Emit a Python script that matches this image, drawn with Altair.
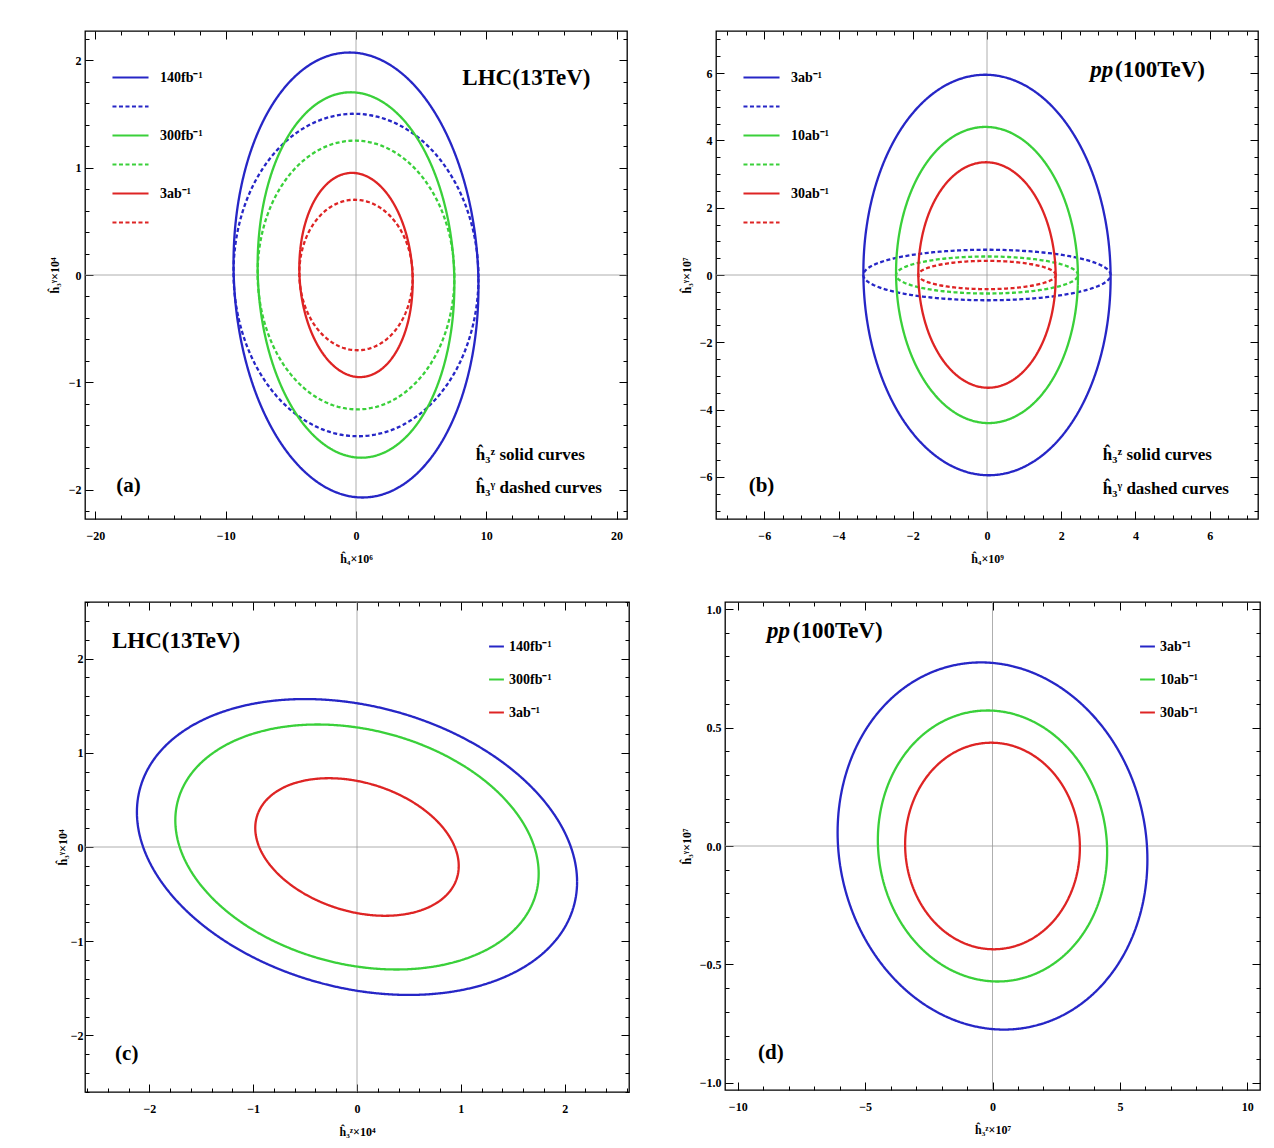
import numpy as np
import pandas as pd
import altair as alt

SERIF = "Liberation Serif"
BLUE, GREEN, RED = "#2626c6", "#3ad03a", "#de2424"
SOLID = [1, 0]
DASH = [4, 2.5]

# ---------------- panel (a): LHC 13 TeV ----------------
a_labels = ["140fb⁻¹", "300fb⁻¹", "3ab⁻¹"]
a_z_xhalf = [9.4, 7.55, 4.35]      # solid curves (ĥ3^Z): half extent along ĥ4
a_z_yhalf = [2.07, 1.70, 0.95]     # half extent along vertical axis
a_z_xtop = [-0.5, -0.4, -0.3]      # ĥ4 position of the top point
a_g_xhalf = [9.4, 7.55, 4.35]      # dashed curves (ĥ3^γ)
a_g_yhalf = [1.50, 1.25, 0.70]
a_g_xtop = [-0.15, -0.1, -0.1]
a_xticks = [-20, -10, 0, 10, 20]
a_yticks = [-2, -1, 0, 1, 2]

# ---------------- panel (b): pp 100 TeV ----------------
b_labels = ["3ab⁻¹", "10ab⁻¹", "30ab⁻¹"]
b_z_xhalf = [3.33, 2.45, 1.85]
b_z_yhalf = [5.95, 4.40, 3.35]
b_z_xtop = [-0.05, -0.04, -0.03]
b_g_xhalf = [3.33, 2.45, 1.85]
b_g_yhalf = [0.75, 0.55, 0.42]
b_g_xtop = [0.0, 0.0, 0.0]
b_xticks = [-6, -4, -2, 0, 2, 4, 6]
b_yticks = [-6, -4, -2, 0, 2, 4, 6]

# ---------------- panel (c): LHC 13 TeV, (ĥ3^Z, ĥ3^γ) ----------------
c_labels = ["140fb⁻¹", "300fb⁻¹", "3ab⁻¹"]
c_xhalf = [2.12, 1.75, 0.98]
c_yhalf = [1.57, 1.30, 0.73]
c_xtop = [-0.50, -0.38, -0.27]
c_xticks = [-2, -1, 0, 1, 2]
c_yticks = [-2, -1, 0, 1, 2]

# ---------------- panel (d): pp 100 TeV, (ĥ3^Z, ĥ3^γ) ----------------
d_labels = ["3ab⁻¹", "10ab⁻¹", "30ab⁻¹"]
d_xhalf = [6.08, 4.50, 3.43]
d_yhalf = [0.775, 0.572, 0.436]
d_xtop = [-0.45, -0.20, -0.05]
d_xticks = [-10, -5, 0, 5, 10]
d_yticks = [-1.0, -0.5, 0.0, 0.5, 1.0]


def ellipse_rows(key, xh, yh, xt, n=241):
    t = np.linspace(0, 2 * np.pi, n)
    b = xt * yh / xh
    c = np.sqrt(yh ** 2 - b ** 2)
    return pd.DataFrame({"x": xh * np.cos(t), "y": b * np.cos(t) + c * np.sin(t),
                         "key": key, "i": np.arange(n)})


def build(labels, zx, zy, zt, gx=None, gy=None, gt=None):
    frames, keys, cols, dashes = [], [], [], []
    colors = [BLUE, GREEN, RED]
    for k in range(3):
        frames.append(ellipse_rows(labels[k], zx[k], zy[k], zt[k]))
        keys.append(labels[k]); cols.append(colors[k]); dashes.append(SOLID)
        if gx is not None:
            kk = labels[k] + " γ"
            frames.append(ellipse_rows(kk, gx[k], gy[k], gt[k]))
            keys.append(kk); cols.append(colors[k]); dashes.append(DASH)
    return pd.concat(frames, ignore_index=True), keys, cols, dashes


def minor(lo, hi, step, majors):
    vals = np.round(np.arange(lo, hi + step / 2, step), 6)
    return [float(v) for v in vals if all(abs(v - m) > 1e-6 for m in majors)]


def tax(orient, offset, values, size):
    return alt.Axis(orient=orient, offset=offset, values=values, labels=False, ticks=True,
                    tickSize=size, tickColor="black", tickWidth=1, domain=False,
                    grid=False, title=None)


def panel(data, xdom, ydom, xmaj, xstep, ymaj, ystep, xtitle, ytitle, W, H,
          xfmt, yfmt, legend, texts, ylp=4, ytp=6):
    df, keys, cols, dashes = data
    xs = alt.Scale(domain=xdom, nice=False, zero=False)
    ys = alt.Scale(domain=ydom, nice=False, zero=False)
    x0 = np.ceil(xdom[0] / xstep) * xstep
    y0 = np.ceil(ydom[0] / ystep) * ystep
    xmin_t = [v for v in minor(x0, xdom[1], xstep, xmaj) if xdom[0] <= v <= xdom[1]]
    ymin_t = [v for v in minor(y0, ydom[1], ystep, ymaj) if ydom[0] <= v <= ydom[1]]
    one = pd.DataFrame({"v": [0]})

    vline = alt.Chart(one).mark_rule(color="#9a9a9a", strokeWidth=0.8).encode(
        x=alt.XDatum(0, type="quantitative", scale=xs, axis=tax("top", -H, xmaj, 8)),
        y=alt.YDatum(ydom[0], type="quantitative", scale=ys, axis=tax("right", -W, ymaj, 8)),
        y2=alt.Y2Datum(ydom[1]),
    )
    hline = alt.Chart(one).mark_rule(color="#9a9a9a", strokeWidth=0.8).encode(
        y=alt.YDatum(0, type="quantitative", scale=ys, axis=tax("left", -W, ymaj, 8)),
        x=alt.XDatum(xdom[0], type="quantitative", scale=xs, axis=tax("bottom", -H, xmaj, 8)),
        x2=alt.X2Datum(xdom[1]),
    )
    mt1 = alt.Chart(one).mark_point(opacity=0).encode(
        x=alt.XDatum(0, type="quantitative", scale=xs, axis=tax("top", -H, xmin_t, 4)),
        y=alt.YDatum(0, type="quantitative", scale=ys, axis=tax("right", -W, ymin_t, 4)),
    )
    mt2 = alt.Chart(one).mark_point(opacity=0).encode(
        x=alt.XDatum(0, type="quantitative", scale=xs, axis=tax("bottom", -H, xmin_t, 4)),
        y=alt.YDatum(0, type="quantitative", scale=ys, axis=tax("left", -W, ymin_t, 4)),
    )
    curves = alt.Chart(df).mark_line(strokeWidth=2.3).encode(
        x=alt.X("x:Q", scale=xs, axis=alt.Axis(orient="bottom", values=xmaj, format=xfmt,
                                               ticks=False, domain=False, grid=False,
                                               labelPadding=11, title=xtitle, titlePadding=12)),
        y=alt.Y("y:Q", scale=ys, axis=alt.Axis(orient="left", values=ymaj, format=yfmt,
                                               ticks=False, domain=False, grid=False,
                                               labelPadding=ylp, title=ytitle, titlePadding=ytp)),
        color=alt.Color("key:N", scale=alt.Scale(domain=keys, range=cols), legend=legend),
        strokeDash=alt.StrokeDash("key:N", scale=alt.Scale(domain=keys, range=dashes),
                                  legend=legend),
        order="i:Q",
    )
    layers = [vline, hline, mt1, mt2, curves]
    for (tx, ty, txt, align, size, weight, style) in texts:
        layers.append(alt.Chart(one).mark_text(
            text=txt, align=align, baseline="middle", font=SERIF, fontSize=size,
            fontWeight=weight, fontStyle=style, color="black").encode(
            x=alt.XDatum(tx, type="quantitative", scale=xs, axis=None),
            y=alt.YDatum(ty, type="quantitative", scale=ys, axis=None)))
    return alt.layer(*layers).resolve_axis(x="independent", y="independent").properties(
        width=W, height=H)


def big_legend(x, y):
    return alt.Legend(title=None, orient="none", legendX=x, legendY=y, symbolType="stroke",
                      symbolSize=1300, symbolStrokeWidth=2, labelFont=SERIF, labelFontSize=14,
                      labelFontWeight="bold", labelColor="black", rowPadding=2,
                      labelOffset=10, padding=0,
                      labelExpr="indexof(datum.label, ' γ') >= 0 ? '' : datum.label")


def small_legend(x, y):
    return alt.Legend(title=None, orient="none", legendX=x, legendY=y, symbolType="stroke",
                      symbolSize=220, symbolStrokeWidth=2, labelFont=SERIF, labelFontSize=14,
                      labelFontWeight="bold", labelColor="black", rowPadding=17,
                      labelOffset=4, padding=0)


pa = panel(build(a_labels, a_z_xhalf, a_z_yhalf, a_z_xtop, a_g_xhalf, a_g_yhalf, a_g_xtop),
           [-20.8, 20.8], [-2.27, 2.27], a_xticks, 2, a_yticks, 0.2,
           "ĥ₄×10⁶", "ĥ₃ᵞ×10⁴", 542, 488, "d", "d", big_legend(26, 27),
           [(18.0, 1.83, "LHC(13TeV)", "right", 23, "bold", "normal"),
            (-18.4, -1.96, "(a)", "left", 21, "bold", "normal"),
            (9.2, -1.67, "ĥ₃ᶻ solid curves", "left", 17, "bold", "normal"),
            (9.2, -1.98, "ĥ₃ᵞ dashed curves", "left", 17, "bold", "normal")],
           ylp=4, ytp=7)

pb = panel(build(b_labels, b_z_xhalf, b_z_yhalf, b_z_xtop, b_g_xhalf, b_g_yhalf, b_g_xtop),
           [-7.3, 7.3], [-7.25, 7.25], b_xticks, 0.5, b_yticks, 0.5,
           "ĥ₄×10⁹", "ĥ₃ᵞ×10⁷", 542, 488, "d", "d", big_legend(26, 27),
           [(3.45, 6.08, "(100TeV)", "left", 23, "bold", "normal"),
            (3.4, 6.08, "pp", "right", 23, "bold", "italic"),
            (-6.42, -6.26, "(b)", "left", 21, "bold", "normal"),
            (3.12, -5.34, "ĥ₃ᶻ solid curves", "left", 17, "bold", "normal"),
            (3.12, -6.35, "ĥ₃ᵞ dashed curves", "left", 17, "bold", "normal")])

pc = panel(build(c_labels, c_xhalf, c_yhalf, c_xtop),
           [-2.62, 2.62], [-2.6, 2.6], c_xticks, 0.2, c_yticks, 0.2,
           "ĥ₃ᶻ×10⁴", "ĥ₃ᵞ×10⁴", 544, 490, "d", "d", small_legend(403, 36),
           [(-2.36, 2.19, "LHC(13TeV)", "left", 23, "bold", "normal"),
            (-2.33, -2.2, "(c)", "left", 21, "bold", "normal")],
           ylp=2, ytp=1)

pd_ = panel(build(d_labels, d_xhalf, d_yhalf, d_xtop),
            [-10.5, 10.5], [-1.03, 1.03], d_xticks, 1, d_yticks, 0.1,
            "ĥ₃ᶻ×10⁷", "ĥ₃ᵞ×10⁷", 535, 488, "d", ".1f", small_legend(414, 36),
            [(-7.84, 0.907, "(100TeV)", "left", 23, "bold", "normal"),
             (-7.95, 0.907, "pp", "right", 23, "bold", "italic"),
             (-9.2, -0.873, "(d)", "left", 21, "bold", "normal")])

RES = dict(color="independent", strokeDash="independent")
chart = alt.concat(pa, pb, pc, pd_, columns=2, align="none",
                   spacing={"row": 35, "column": 48}).resolve_scale(
    **RES).resolve_legend(color="independent", strokeDash="independent").properties(
    padding={"left": 47, "top": 29, "right": 10, "bottom": 5},
    background="white",
).configure_view(stroke="black", strokeWidth=1.3).configure_axis(
    labelFont=SERIF, titleFont=SERIF, labelColor="black", titleColor="black",
    labelFontSize=12, labelFontWeight="bold", titleFontSize=12, titleFontWeight="bold")

chart.save("out.html", embed_options={"renderer": "svg", "actions": False})
